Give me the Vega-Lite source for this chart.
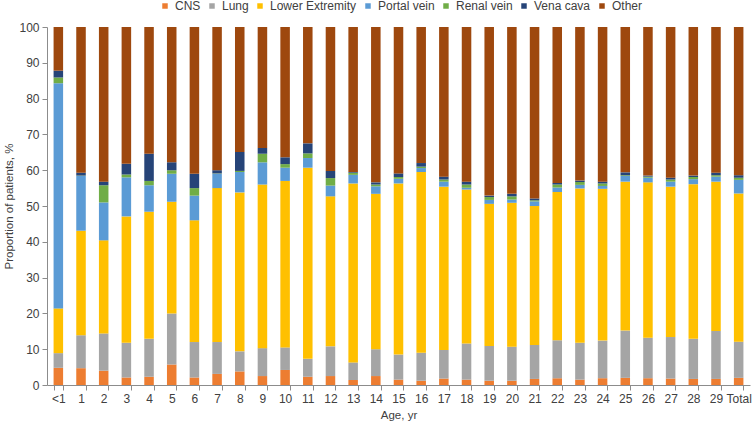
{
  "$schema": "https://vega.github.io/schema/vega-lite/v6.json",
  "width": 703,
  "height": 358,
  "autosize": {"type": "none"},
  "padding": {"left": 47, "top": 27, "right": 3, "bottom": 44},
  "background": "white",
  "config": {
    "view": {"stroke": null},
    "font": "Liberation Sans",
    "axis": {"grid": false, "domainColor": "#8c8c8c", "tickColor": "#8c8c8c", "labelColor": "#404040", "titleColor": "#404040", "labelFontSize": 12, "titleFontSize": 11.5, "titleFontWeight": "normal"}
  },
  "data": {
    "values": [
      {"age":"<1","type":"CNS","order":1,"pct":4.8},{"age":"<1","type":"Lung","order":2,"pct":4.1},{"age":"<1","type":"Lower Extremity","order":3,"pct":12.5},{"age":"<1","type":"Portal vein","order":4,"pct":62.9},{"age":"<1","type":"Renal vein","order":5,"pct":1.6},{"age":"<1","type":"Vena cava","order":6,"pct":1.9},{"age":"<1","type":"Other","order":7,"pct":12.2},
      {"age":"1","type":"CNS","order":1,"pct":4.7},{"age":"1","type":"Lung","order":2,"pct":9.2},{"age":"1","type":"Lower Extremity","order":3,"pct":29.2},{"age":"1","type":"Portal vein","order":4,"pct":15.3},{"age":"1","type":"Renal vein","order":5,"pct":0.1},{"age":"1","type":"Vena cava","order":6,"pct":0.8},{"age":"1","type":"Other","order":7,"pct":40.7},
      {"age":"2","type":"CNS","order":1,"pct":4.0},{"age":"2","type":"Lung","order":2,"pct":10.4},{"age":"2","type":"Lower Extremity","order":3,"pct":26.0},{"age":"2","type":"Portal vein","order":4,"pct":10.6},{"age":"2","type":"Renal vein","order":5,"pct":4.8},{"age":"2","type":"Vena cava","order":6,"pct":1.0},{"age":"2","type":"Other","order":7,"pct":43.2},
      {"age":"3","type":"CNS","order":1,"pct":2.1},{"age":"3","type":"Lung","order":2,"pct":9.7},{"age":"3","type":"Lower Extremity","order":3,"pct":35.3},{"age":"3","type":"Portal vein","order":4,"pct":10.9},{"age":"3","type":"Renal vein","order":5,"pct":0.8},{"age":"3","type":"Vena cava","order":6,"pct":3.0},{"age":"3","type":"Other","order":7,"pct":38.2},
      {"age":"4","type":"CNS","order":1,"pct":2.3},{"age":"4","type":"Lung","order":2,"pct":10.6},{"age":"4","type":"Lower Extremity","order":3,"pct":35.5},{"age":"4","type":"Portal vein","order":4,"pct":7.4},{"age":"4","type":"Renal vein","order":5,"pct":1.2},{"age":"4","type":"Vena cava","order":6,"pct":7.6},{"age":"4","type":"Other","order":7,"pct":35.4},
      {"age":"5","type":"CNS","order":1,"pct":5.7},{"age":"5","type":"Lung","order":2,"pct":14.3},{"age":"5","type":"Lower Extremity","order":3,"pct":31.2},{"age":"5","type":"Portal vein","order":4,"pct":7.8},{"age":"5","type":"Renal vein","order":5,"pct":1.0},{"age":"5","type":"Vena cava","order":6,"pct":2.2},{"age":"5","type":"Other","order":7,"pct":37.8},
      {"age":"6","type":"CNS","order":1,"pct":2.1},{"age":"6","type":"Lung","order":2,"pct":9.9},{"age":"6","type":"Lower Extremity","order":3,"pct":34.0},{"age":"6","type":"Portal vein","order":4,"pct":6.9},{"age":"6","type":"Renal vein","order":5,"pct":2.1},{"age":"6","type":"Vena cava","order":6,"pct":4.0},{"age":"6","type":"Other","order":7,"pct":41.0},
      {"age":"7","type":"CNS","order":1,"pct":3.1},{"age":"7","type":"Lung","order":2,"pct":8.9},{"age":"7","type":"Lower Extremity","order":3,"pct":43.0},{"age":"7","type":"Portal vein","order":4,"pct":4.0},{"age":"7","type":"Renal vein","order":5,"pct":0.1},{"age":"7","type":"Vena cava","order":6,"pct":0.9},{"age":"7","type":"Other","order":7,"pct":40.0},
      {"age":"8","type":"CNS","order":1,"pct":3.8},{"age":"8","type":"Lung","order":2,"pct":5.6},{"age":"8","type":"Lower Extremity","order":3,"pct":44.4},{"age":"8","type":"Portal vein","order":4,"pct":5.7},{"age":"8","type":"Renal vein","order":5,"pct":0.3},{"age":"8","type":"Vena cava","order":6,"pct":5.3},{"age":"8","type":"Other","order":7,"pct":34.9},
      {"age":"9","type":"CNS","order":1,"pct":2.5},{"age":"9","type":"Lung","order":2,"pct":7.8},{"age":"9","type":"Lower Extremity","order":3,"pct":45.7},{"age":"9","type":"Portal vein","order":4,"pct":6.2},{"age":"9","type":"Renal vein","order":5,"pct":2.4},{"age":"9","type":"Vena cava","order":6,"pct":1.6},{"age":"9","type":"Other","order":7,"pct":33.8},
      {"age":"10","type":"CNS","order":1,"pct":4.2},{"age":"10","type":"Lung","order":2,"pct":6.3},{"age":"10","type":"Lower Extremity","order":3,"pct":46.5},{"age":"10","type":"Portal vein","order":4,"pct":3.7},{"age":"10","type":"Renal vein","order":5,"pct":1.0},{"age":"10","type":"Vena cava","order":6,"pct":1.9},{"age":"10","type":"Other","order":7,"pct":36.4},
      {"age":"11","type":"CNS","order":1,"pct":2.3},{"age":"11","type":"Lung","order":2,"pct":5.0},{"age":"11","type":"Lower Extremity","order":3,"pct":53.4},{"age":"11","type":"Portal vein","order":4,"pct":2.7},{"age":"11","type":"Renal vein","order":5,"pct":1.3},{"age":"11","type":"Vena cava","order":6,"pct":2.8},{"age":"11","type":"Other","order":7,"pct":32.5},
      {"age":"12","type":"CNS","order":1,"pct":2.5},{"age":"12","type":"Lung","order":2,"pct":8.3},{"age":"12","type":"Lower Extremity","order":3,"pct":41.9},{"age":"12","type":"Portal vein","order":4,"pct":3.0},{"age":"12","type":"Renal vein","order":5,"pct":2.1},{"age":"12","type":"Vena cava","order":6,"pct":2.0},{"age":"12","type":"Other","order":7,"pct":40.2},
      {"age":"13","type":"CNS","order":1,"pct":1.4},{"age":"13","type":"Lung","order":2,"pct":4.9},{"age":"13","type":"Lower Extremity","order":3,"pct":50.0},{"age":"13","type":"Portal vein","order":4,"pct":2.4},{"age":"13","type":"Renal vein","order":5,"pct":0.6},{"age":"13","type":"Vena cava","order":6,"pct":0.2},{"age":"13","type":"Other","order":7,"pct":40.5},
      {"age":"14","type":"CNS","order":1,"pct":2.5},{"age":"14","type":"Lung","order":2,"pct":7.5},{"age":"14","type":"Lower Extremity","order":3,"pct":43.4},{"age":"14","type":"Portal vein","order":4,"pct":2.1},{"age":"14","type":"Renal vein","order":5,"pct":0.5},{"age":"14","type":"Vena cava","order":6,"pct":0.6},{"age":"14","type":"Other","order":7,"pct":43.4},
      {"age":"15","type":"CNS","order":1,"pct":1.5},{"age":"15","type":"Lung","order":2,"pct":7.0},{"age":"15","type":"Lower Extremity","order":3,"pct":47.8},{"age":"15","type":"Portal vein","order":4,"pct":1.3},{"age":"15","type":"Renal vein","order":5,"pct":0.5},{"age":"15","type":"Vena cava","order":6,"pct":1.0},{"age":"15","type":"Other","order":7,"pct":40.9},
      {"age":"16","type":"CNS","order":1,"pct":1.2},{"age":"16","type":"Lung","order":2,"pct":7.8},{"age":"16","type":"Lower Extremity","order":3,"pct":50.5},{"age":"16","type":"Portal vein","order":4,"pct":1.1},{"age":"16","type":"Renal vein","order":5,"pct":0.4},{"age":"16","type":"Vena cava","order":6,"pct":1.0},{"age":"16","type":"Other","order":7,"pct":38.0},
      {"age":"17","type":"CNS","order":1,"pct":1.8},{"age":"17","type":"Lung","order":2,"pct":8.0},{"age":"17","type":"Lower Extremity","order":3,"pct":45.6},{"age":"17","type":"Portal vein","order":4,"pct":1.4},{"age":"17","type":"Renal vein","order":5,"pct":0.6},{"age":"17","type":"Vena cava","order":6,"pct":0.8},{"age":"17","type":"Other","order":7,"pct":41.8},
      {"age":"18","type":"CNS","order":1,"pct":1.5},{"age":"18","type":"Lung","order":2,"pct":10.1},{"age":"18","type":"Lower Extremity","order":3,"pct":43.0},{"age":"18","type":"Portal vein","order":4,"pct":0.5},{"age":"18","type":"Renal vein","order":5,"pct":0.9},{"age":"18","type":"Vena cava","order":6,"pct":0.8},{"age":"18","type":"Other","order":7,"pct":43.2},
      {"age":"19","type":"CNS","order":1,"pct":1.2},{"age":"19","type":"Lung","order":2,"pct":9.7},{"age":"19","type":"Lower Extremity","order":3,"pct":39.7},{"age":"19","type":"Portal vein","order":4,"pct":1.1},{"age":"19","type":"Renal vein","order":5,"pct":0.8},{"age":"19","type":"Vena cava","order":6,"pct":0.4},{"age":"19","type":"Other","order":7,"pct":47.1},
      {"age":"20","type":"CNS","order":1,"pct":1.2},{"age":"20","type":"Lung","order":2,"pct":9.5},{"age":"20","type":"Lower Extremity","order":3,"pct":40.2},{"age":"20","type":"Portal vein","order":4,"pct":0.9},{"age":"20","type":"Renal vein","order":5,"pct":0.9},{"age":"20","type":"Vena cava","order":6,"pct":0.7},{"age":"20","type":"Other","order":7,"pct":46.6},
      {"age":"21","type":"CNS","order":1,"pct":1.7},{"age":"21","type":"Lung","order":2,"pct":9.5},{"age":"21","type":"Lower Extremity","order":3,"pct":38.8},{"age":"21","type":"Portal vein","order":4,"pct":1.3},{"age":"21","type":"Renal vein","order":5,"pct":0.3},{"age":"21","type":"Vena cava","order":6,"pct":0.5},{"age":"21","type":"Other","order":7,"pct":47.9},
      {"age":"22","type":"CNS","order":1,"pct":1.9},{"age":"22","type":"Lung","order":2,"pct":10.6},{"age":"22","type":"Lower Extremity","order":3,"pct":41.4},{"age":"22","type":"Portal vein","order":4,"pct":1.3},{"age":"22","type":"Renal vein","order":5,"pct":0.8},{"age":"22","type":"Vena cava","order":6,"pct":0.4},{"age":"22","type":"Other","order":7,"pct":43.6},
      {"age":"23","type":"CNS","order":1,"pct":1.5},{"age":"23","type":"Lung","order":2,"pct":10.3},{"age":"23","type":"Lower Extremity","order":3,"pct":43.1},{"age":"23","type":"Portal vein","order":4,"pct":1.0},{"age":"23","type":"Renal vein","order":5,"pct":0.8},{"age":"23","type":"Vena cava","order":6,"pct":0.4},{"age":"23","type":"Other","order":7,"pct":42.9},
      {"age":"24","type":"CNS","order":1,"pct":1.9},{"age":"24","type":"Lung","order":2,"pct":10.5},{"age":"24","type":"Lower Extremity","order":3,"pct":42.4},{"age":"24","type":"Portal vein","order":4,"pct":0.8},{"age":"24","type":"Renal vein","order":5,"pct":0.7},{"age":"24","type":"Vena cava","order":6,"pct":0.5},{"age":"24","type":"Other","order":7,"pct":43.2},
      {"age":"25","type":"CNS","order":1,"pct":2.0},{"age":"25","type":"Lung","order":2,"pct":13.2},{"age":"25","type":"Lower Extremity","order":3,"pct":41.6},{"age":"25","type":"Portal vein","order":4,"pct":1.6},{"age":"25","type":"Renal vein","order":5,"pct":0.2},{"age":"25","type":"Vena cava","order":6,"pct":0.8},{"age":"25","type":"Other","order":7,"pct":40.6},
      {"age":"26","type":"CNS","order":1,"pct":1.9},{"age":"26","type":"Lung","order":2,"pct":11.3},{"age":"26","type":"Lower Extremity","order":3,"pct":43.4},{"age":"26","type":"Portal vein","order":4,"pct":1.3},{"age":"26","type":"Renal vein","order":5,"pct":0.3},{"age":"26","type":"Vena cava","order":6,"pct":0.3},{"age":"26","type":"Other","order":7,"pct":41.5},
      {"age":"27","type":"CNS","order":1,"pct":1.8},{"age":"27","type":"Lung","order":2,"pct":11.6},{"age":"27","type":"Lower Extremity","order":3,"pct":42.0},{"age":"27","type":"Portal vein","order":4,"pct":1.4},{"age":"27","type":"Renal vein","order":5,"pct":0.6},{"age":"27","type":"Vena cava","order":6,"pct":0.5},{"age":"27","type":"Other","order":7,"pct":42.1},
      {"age":"28","type":"CNS","order":1,"pct":1.7},{"age":"28","type":"Lung","order":2,"pct":11.2},{"age":"28","type":"Lower Extremity","order":3,"pct":43.2},{"age":"28","type":"Portal vein","order":4,"pct":1.4},{"age":"28","type":"Renal vein","order":5,"pct":0.6},{"age":"28","type":"Vena cava","order":6,"pct":0.4},{"age":"28","type":"Other","order":7,"pct":41.5},
      {"age":"29","type":"CNS","order":1,"pct":1.7},{"age":"29","type":"Lung","order":2,"pct":13.4},{"age":"29","type":"Lower Extremity","order":3,"pct":41.7},{"age":"29","type":"Portal vein","order":4,"pct":1.4},{"age":"29","type":"Renal vein","order":5,"pct":0.4},{"age":"29","type":"Vena cava","order":6,"pct":0.7},{"age":"29","type":"Other","order":7,"pct":40.7},
      {"age":"Total","type":"CNS","order":1,"pct":2.0},{"age":"Total","type":"Lung","order":2,"pct":10.1},{"age":"Total","type":"Lower Extremity","order":3,"pct":41.4},{"age":"Total","type":"Portal vein","order":4,"pct":3.8},{"age":"Total","type":"Renal vein","order":5,"pct":0.6},{"age":"Total","type":"Vena cava","order":6,"pct":0.7},{"age":"Total","type":"Other","order":7,"pct":41.4}
    ]
  },
  "mark": {"type": "bar"},
  "encoding": {
    "x": {
      "field": "age", "type": "nominal", "sort": null,
      "scale": {"paddingInner": 0.58, "paddingOuter": 0.29},
      "axis": {"title": "Age, yr", "labelAngle": 0, "tickBand": "extent", "tickSize": 5, "labelPadding": 3, "titlePadding": 5}
    },
    "y": {
      "field": "pct", "type": "quantitative", "stack": "zero",
      "scale": {"domain": [0, 100], "nice": false},
      "axis": {"title": "Proportion of patients, %", "values": [0,10,20,30,40,50,60,70,80,90,100], "tickSize": 5, "labelPadding": 3, "titlePadding": 4}
    },
    "order": {"field": "order", "type": "quantitative"},
    "color": {
      "field": "type", "type": "nominal",
      "scale": {
        "domain": ["CNS", "Lung", "Lower Extremity", "Portal vein", "Renal vein", "Vena cava", "Other"],
        "range": ["#ED7D31", "#A5A5A5", "#FFC000", "#5B9BD5", "#70AD47", "#264478", "#9E480E"]
      },
      "legend": {
        "title": null, "orient": "none", "direction": "horizontal", "legendX": 112, "legendY": -27,
        "symbolType": "square", "symbolSize": 30, "symbolStrokeWidth": 0, "labelFontSize": 12, "labelColor": "#404040",
        "columnPadding": 5, "symbolOffset": 0, "labelOffset": 4
      }
    }
  }
}
